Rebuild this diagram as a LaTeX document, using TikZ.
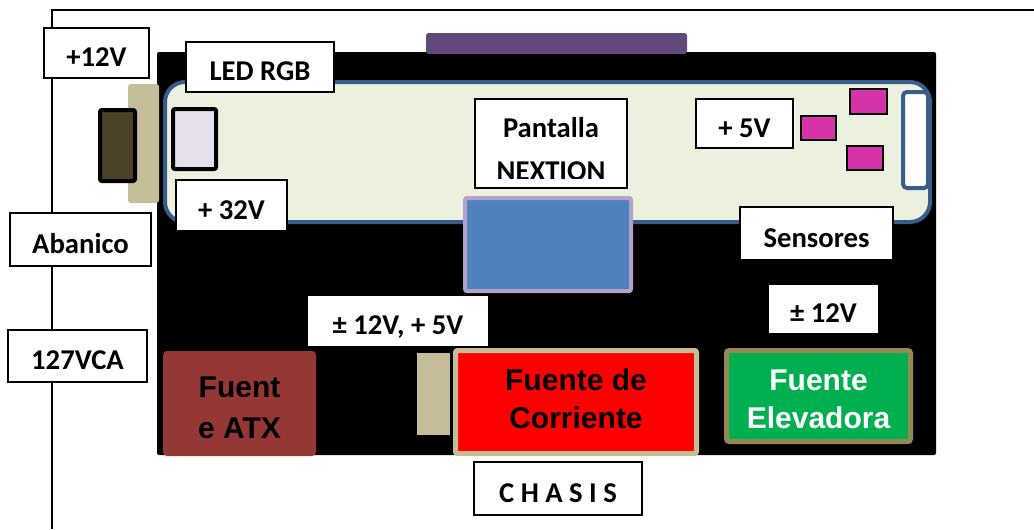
\documentclass[tikz,border=0pt]{standalone}
\usepackage{fontspec}
\setmainfont{Carlito}
\newfontfamily\arialf{Liberation Sans}
\definecolor{panelfill}{HTML}{EBF1DE}
\definecolor{panelline}{HTML}{385D8A}
\definecolor{tan}{HTML}{C4BD97}
\definecolor{darkol}{HTML}{4A4229}
\definecolor{lav}{HTML}{E6E0EC}
\definecolor{purp}{HTML}{604A7B}
\definecolor{scrblue}{HTML}{4F81BD}
\definecolor{scrline}{HTML}{B3A2C7}
\definecolor{mag}{HTML}{D633A8}
\definecolor{atx}{HTML}{953735}
\definecolor{olive}{HTML}{938953}
\definecolor{green}{HTML}{00B050}
\tikzset{
  lbl/.style={draw=black, line width=1pt, fill=white, inner sep=0pt, outer sep=0pt,
    font=\fontsize{21.5}{26}\selectfont\bfseries, text height=20.6pt, text depth=0pt},
  bigtxt/.style={align=center, inner sep=0pt,
    font=\arialf\fontsize{22.5}{29}\selectfont\bfseries},
  sq/.style={fill=mag, draw=black, line width=0.8pt}
}
\begin{document}
\begin{tikzpicture}[x=0.75pt,y=-0.75pt]
\useasboundingbox (0,0) rectangle (1034,529);
% frame
\coordinate (ftr) at (1034,10);
\coordinate (ftl) at (52,10);
\coordinate (fbl) at (52,529);
\draw[line width=1pt] (ftr) -- (ftl) -- (fbl);
% board
\fill[black, rounded corners=1.5pt] (157,52) rectangle (936,455);
\fill[purp, rounded corners=2pt] (426,33) rectangle (687,54);
% tan strip
\fill[tan, rounded corners=2pt] (128,84) rectangle (159,203);
% display panel
\draw[panelline, fill=panelfill, line width=3pt, rounded corners=15pt] (165,82) rectangle (930,222);
% dark fan
\draw[black, fill=darkol, line width=3pt, rounded corners=1.5pt] (100,110) rectangle (135,181);
% led
\draw[black, fill=lav, line width=3pt, rounded corners=1.5pt] (173,109) rectangle (216,169);
% magenta squares
\draw[sq] (801,116) rectangle (836,140);
\draw[sq] (850,89) rectangle (887,114);
\draw[sq] (847,146) rectangle (883,170);
% white bar
\draw[panelline, fill=white, line width=3pt, rounded corners=3pt] (903,92) rectangle (928,188);
% screen
\draw[scrline, fill=scrblue, line width=3pt, rounded corners=1.5pt] (465,198) rectangle (631,291);
% labels
\node[lbl, minimum width=78.75pt, minimum height=37.5pt] (v12) at (96.5,53) {+12V};
\node[lbl, minimum width=111pt, minimum height=37.5pt] (led) at (260,67) {LED RGB};
\node[lbl, minimum width=83.25pt, minimum height=38.25pt] (v32) at (231.5,205.5) {+ 32V};
\node[lbl, minimum width=105.75pt, minimum height=39.75pt] (aban) at (80.5,239.5) {Abanico};
\node[lbl, minimum width=104.25pt, minimum height=39pt] (vca) at (77.5,356) {127VCA};
\node[lbl, minimum width=72.75pt, minimum height=36.75pt] (v5) at (744.5,123.5) {+ 5V};
\node[lbl, minimum width=114.75pt, minimum height=39.75pt] (sens) at (816.5,233.5) {Sensores};
\node[lbl, minimum width=136.5pt, minimum height=39pt] (v125) at (398,321) {± 12V, + 5V};
\node[lbl, minimum width=83.25pt, minimum height=37.5pt] (pm12) at (823.5,309) {± 12V};
\node[lbl, minimum width=126pt, minimum height=39.75pt] (chas) at (558,488.5) {C H A S I S};
\node[lbl, minimum width=114pt, minimum height=66.75pt] (pant) at (551,143.5) {};
\begin{scope}
\clip (476,100) rectangle (626,178);
\node[anchor=base, inner sep=0pt, font=\fontsize{21.5}{26}\selectfont\bfseries] (pantA) at (551,137) {Pantalla};
\node[anchor=base, inner sep=0pt, font=\fontsize{21.5}{26}\selectfont\bfseries] (pantB) at (551,180) {NEXTION};
\end{scope}
% power supplies
\fill[atx, rounded corners=3pt] (163,351) rectangle (316,456);
\node[bigtxt, anchor=base] (atxA) at (239.5,397) {Fuent};
\node[bigtxt, anchor=base] (atxB) at (239.5,438) {e ATX};
\fill[tan] (417,353) rectangle (450,435);
\draw[tan, fill=red, line width=3.75pt, rounded corners=1.5pt] (455.5,350.5) rectangle (696.5,453.5);
\node[bigtxt, anchor=base] (corA) at (576,390) {Fuente de};
\node[bigtxt, anchor=base] (corB) at (576,428) {Corriente};
\draw[olive, fill=green, line width=3.75pt, rounded corners=2pt] (726.5,350.5) rectangle (910.5,441.5);
\node[bigtxt, anchor=base, text=white] (eleA) at (818.5,390) {Fuente};
\node[bigtxt, anchor=base, text=white] (eleB) at (818.5,428) {Elevadora};
\end{tikzpicture}
\end{document}
